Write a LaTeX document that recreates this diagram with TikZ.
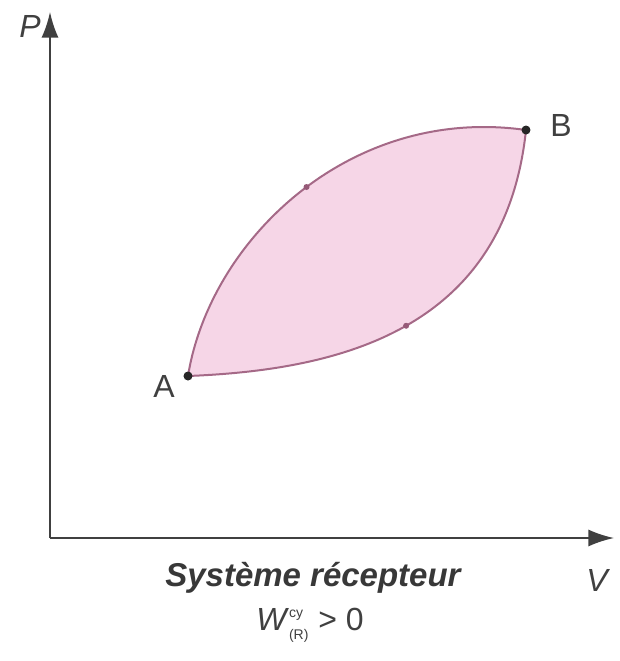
\documentclass[tikz,border=0pt]{standalone}
\usepackage{fontspec}
\setmainfont{Liberation Sans}
\setsansfont{Liberation Sans}
\usetikzlibrary{arrows.meta}

\begin{document}
\begin{tikzpicture}[x=0.5pt,y=-0.5pt,
  axis/.style={-{Latex[length=4.5mm,width=3mm]},draw=black!75,line width=1pt},
  curve/.style={draw={rgb,255:red,165;green,105;blue,135},line width=1pt},
  tag/.style={font=\sffamily\fontsize{16}{18}\selectfont,text=black!75},
  title/.style={font=\sffamily\bfseries\itshape\fontsize{16.5}{18}\selectfont,text=black!78},
  pt/.style={circle,fill=black!85,inner sep=0pt,minimum size=4.5pt},
  dotmark/.style={circle,fill={rgb,255:red,150;green,90;blue,120},inner sep=0pt,minimum size=3pt},
]
\useasboundingbox (0,0) rectangle (620,661);
\definecolor{pinkfill}{RGB}{246,214,231}
% axes
\coordinate (O) at (50,538);
\coordinate (Pend) at (50,12);
\coordinate (Vend) at (614,538);
\draw[axis] (O) -- (Pend);
\draw[axis] (O) -- (Vend);
\node[tag,font=\sffamily\itshape\fontsize{16}{18}\selectfont] (Plab) at (30,26) {P};
\node[tag,font=\sffamily\itshape\fontsize{16}{18}\selectfont] (Vlab) at (597,580) {V};
% cycle
\coordinate (A) at (188,376);
\coordinate (B) at (526,130);
\fill[pinkfill] (A) .. controls (210,240) and (350,105) .. (B)
  .. controls (505,330) and (340,370) .. (A) -- cycle;
\draw[curve] (A) .. controls (210,240) and (350,105) .. (B)
  node[dotmark,pos=0.52] (m1) {};
\draw[curve] (A) .. controls (340,370) and (505,330) .. (B)
  node[dotmark,pos=0.5] (m2) {};
\node[pt] (Adot) at (A) {};
\node[pt] (Bdot) at (B) {};
\node[tag] (Alab) at (164,386) {A};
\node[tag] (Blab) at (561,125) {B};
% caption
\node[title] (sys) at (313,578) {Système récepteur};
\node[tag] (work) at (310,625) {\textit{W}$^{\textsf{\scriptsize cy}}_{\textsf{\scriptsize(R)}}$ > 0};
\end{tikzpicture}
\end{document}
